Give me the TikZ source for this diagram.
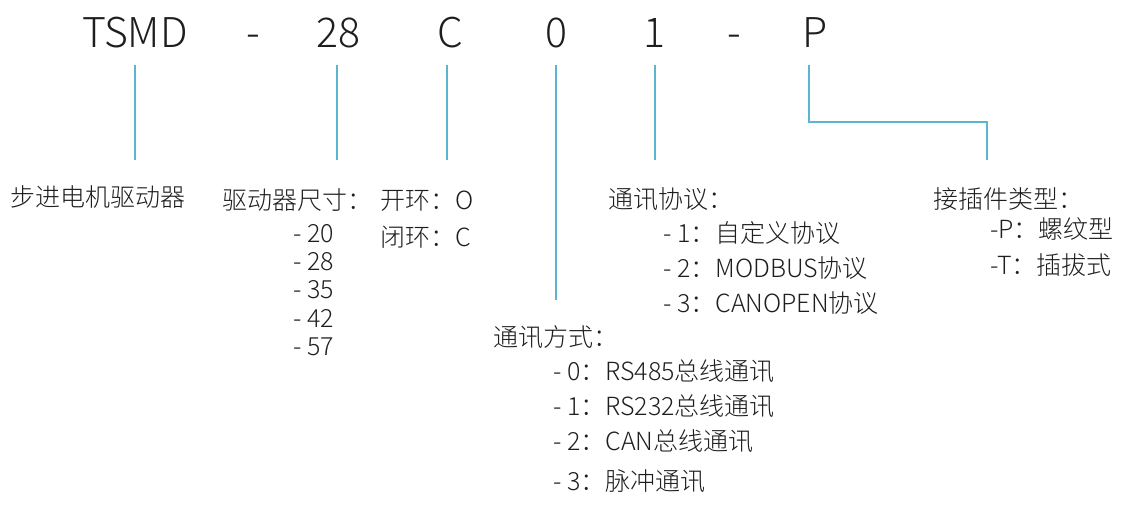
\documentclass[tikz,border=0pt]{standalone}
\usepackage{fontspec}
\setmainfont{Noto Sans CJK SC Light}
\definecolor{lineblue}{RGB}{91,180,208}
\definecolor{txt}{RGB}{30,30,30}
\begin{document}
\begin{tikzpicture}[x=1pt,y=-1pt,
  code/.style={font=\fontsize{41}{41}\selectfont, text=txt, anchor=base, inner sep=0},
  lbl/.style={font=\fontsize{25}{25}\selectfont, text=txt, anchor=base west, inner sep=0},
  lead/.style={draw=lineblue, line width=1.8pt}]
\useasboundingbox (0,0) rectangle (1122,504);
% code row
\node[code] (tsmd) at (135,47) {TSMD};
\node[code] (d1) at (253,47) {-};
\node[code] (c28) at (338,47) {28};
\node[code] (cc) at (450,47) {C};
\node[code] (c0) at (556,47) {0};
\node[code] (c1) at (654,47) {1};
\node[code] (d2) at (734,47) {-};
\node[code] (cp) at (815,47) {P};
% connector ends
\coordinate (s1) at (135,65);  \coordinate (e1) at (135,160);
\coordinate (s2) at (337,65);  \coordinate (e2) at (337,160);
\coordinate (s3) at (447,65);  \coordinate (e3) at (447,160);
\coordinate (s4) at (556,65);  \coordinate (e4) at (556,300);
\coordinate (s5) at (655,65);  \coordinate (e5) at (655,160);
\coordinate (s6) at (809,65);  \coordinate (k6) at (809,122); \coordinate (e6) at (987,160);
\draw[lead] (s1) -- (e1);
\draw[lead] (s2) -- (e2);
\draw[lead] (s3) -- (e3);
\draw[lead] (s4) -- (e4);
\draw[lead] (s5) -- (e5);
\draw[lead] (s6) -- (k6) -| (e6);
% labels
\node[lbl] (drv) at (10,206) {步进电机驱动器};
\node[lbl] (size) at (222,209) {驱动器尺寸：};
\node[lbl] (s20) at (293,242) {- 20};
\node[lbl] (s28) at (293,270) {- 28};
\node[lbl] (s35) at (293,298) {- 35};
\node[lbl] (s42) at (293,327) {- 42};
\node[lbl] (s57) at (293,355) {- 57};
\node[lbl] (open) at (380,209) {开环：O};
\node[lbl] (close) at (380,246) {闭环：C};
\node[lbl] (proto) at (608,208) {通讯协议：};
\node[lbl] (p1) at (663,242) {- 1：自定义协议};
\node[lbl] (p2) at (663,277) {- 2：MODBUS协议};
\node[lbl] (p3) at (663,312) {- 3：CANOPEN协议};
\node[lbl] (conn) at (933,208) {接插件类型：};
\node[lbl] (cP) at (990,238) {-P：螺纹型};
\node[lbl] (cT) at (990,274) {-T：插拔式};
\node[lbl] (mode) at (493,346) {通讯方式：};
\node[lbl] (m0) at (553,380) {- 0：RS485总线通讯};
\node[lbl] (m1) at (553,415) {- 1：RS232总线通讯};
\node[lbl] (m2) at (553,450) {- 2：CAN总线通讯};
\node[lbl] (m3) at (553,490) {- 3：脉冲通讯};
\end{tikzpicture}
\end{document}
